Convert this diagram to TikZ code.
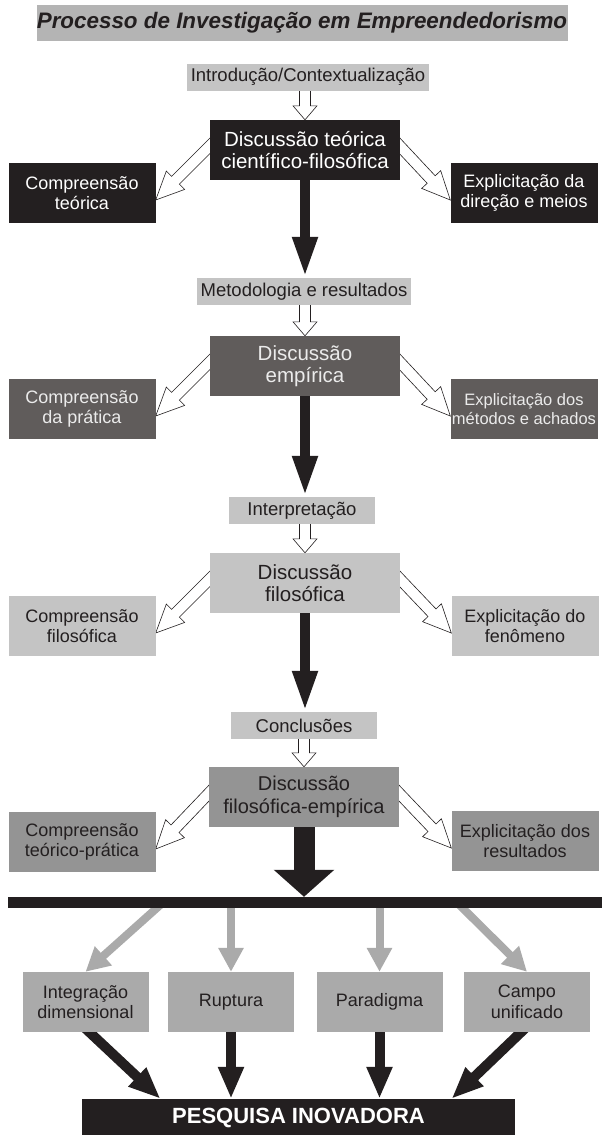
\documentclass[tikz,border=0pt]{standalone}
\usepackage{fontspec}
\setmainfont{Liberation Sans}
\usetikzlibrary{arrows.meta, calc, backgrounds}
\definecolor{ink}{RGB}{35,31,32}
\definecolor{titlegray}{RGB}{180,180,180}
\definecolor{labgray}{RGB}{196,196,196}
\definecolor{empgray}{RGB}{96,92,91}
\definecolor{filgray}{RGB}{196,196,196}
\definecolor{mixgray}{RGB}{148,148,148}
\definecolor{outgray}{RGB}{170,170,170}

% outlined arrow: start, tip, half shaft, half head, head length
\newcommand{\hollowarrow}[5]{%
  \coordinate (ha-s) at (#1);
  \coordinate (ha-e) at (#2);
  \coordinate (ha-b) at ($(ha-e)!#5!(ha-s)$);
  \draw[hollow] ($(ha-s)!#3!90:(ha-e)$) -- ($(ha-b)!#3!90:(ha-e)$)
    -- ($(ha-b)!#4!90:(ha-e)$) -- (ha-e) -- ($(ha-b)!#4!-90:(ha-e)$)
    -- ($(ha-b)!#3!-90:(ha-e)$) -- ($(ha-s)!#3!-90:(ha-e)$) -- cycle;}

\begin{document}
\begin{tikzpicture}[
    x=1pt, y=-1pt,
    every node/.style={inner sep=0pt, align=center, text=ink},
    ttl/.style={fill=titlegray, minimum width=531pt, minimum height=36pt,
      font=\fontsize{22.4}{26}\selectfont\bfseries\itshape},
    lab/.style={fill=labgray, minimum width=146pt, minimum height=27pt,
      inner xsep=4pt, font=\fontsize{18.5}{21}\selectfont},
    mainbox/.style={minimum width=190pt, minimum height=60pt,
      font=\fontsize{20.5}{22.5}\selectfont},
    side/.style={minimum width=147pt, minimum height=60pt,
      font=\fontsize{18}{20.5}\selectfont},
    outbox/.style={fill=outgray, minimum width=126pt, minimum height=60pt,
      font=\fontsize{18}{20.5}\selectfont},
    blk/.style={draw=ink, line width=10pt, -{Triangle[length=41pt, width=23pt]}},
    bigarr/.style={draw=ink, line width=21pt, -{Triangle[length=27pt, width=59pt]}},
    grayarr/.style={draw=outgray, line width=8pt, -{Triangle[length=24pt, width=24pt]}},
    endarr/.style={draw=ink, line width=10pt, shorten <=-6pt,
      -{Triangle[length=32pt, width=24pt]}},
    hollow/.style={fill=white, draw=ink, line width=0.6pt}
  ]
  \useasboundingbox (0,0) rectangle (602,1135);

  \node[ttl] (title) at (302,23) {Processo de Investigação em Empreendedorismo};

  % teoria
  \node[lab] (l1) at (308,77) {Introdução/Contextualização};
  \node[mainbox, fill=ink, text=white] (m1) at (305,150) {Discussão teórica\\científico-filosófica};
  \node[side, fill=ink, text=white] (c1) at (82,193) {Compreensão\\teórica};
  \node[side, fill=ink, text=white] (e1) at (524,193) {Explicitação da\\direção e meios};

  % empiria
  \node[lab] (l2) at (304,291.5) {Metodologia e resultados};
  \node[mainbox, fill=empgray, text=white!92!black] (m2) at (305,366) {Discussão\\empírica};
  \node[side, fill=empgray, text=white!92!black] (c2) at (82,409) {Compreensão\\da prática};
  \node[side, fill=empgray, text=white!92!black, font=\fontsize{16.5}{19.5}\selectfont] (e2) at (524,409) {Explicitação dos\\métodos e achados};

  % filosofia
  \node[lab] (l3) at (302,510.5) {Interpretação};
  \node[mainbox, fill=filgray] (m3) at (305,583) {Discussão\\filosófica};
  \node[side, fill=filgray] (c3) at (82,626) {Compreensão\\filosófica};
  \node[side, fill=filgray] (e3) at (525,626) {Explicitação do\\fenômeno};

  % sintese
  \node[lab] (l4) at (304,725.5) {Conclusões};
  \node[mainbox, fill=mixgray, font=\fontsize{20}{22.5}\selectfont] (m4) at (304,797) {Discussão\\filosófica-empírica};
  \node[side, fill=mixgray] (c4) at (82,842) {Compreensão\\teórico-prática};
  \node[side, fill=mixgray] (e4) at (525,841) {Explicitação dos\\resultados};

  \node[fill=ink, minimum width=594pt, minimum height=11pt] (bar) at (305,902.5) {};

  \node[outbox] (o1) at (85.5,1002) {Integração\\dimensional};
  \node[outbox] (o2) at (231,1002) {Ruptura};
  \node[outbox] (o3) at (379.5,1002) {Paradigma};
  \node[outbox] (o4) at (527,1002) {Campo\\unificado};

  \node[fill=ink, text=white, minimum width=433pt, minimum height=38pt,
    font=\fontsize{22}{26}\selectfont\bfseries] (pq) at (298.5,1118) {PESQUISA INOVADORA};

  \begin{scope}[on background layer]
    \fill[white] (0,0) rectangle (602,1135);
    \foreach \s in {1,2,3,4} {
      \hollowarrow{$(m\s.north |- l\s.south)+(0,-2)$}{m\s.north}{5.5pt}{12pt}{14pt}
      \hollowarrow{$(m\s.west)+(6,-10)$}{$(c\s.east)+(0,7)$}{5.5pt}{13pt}{28pt}
      \hollowarrow{$(m\s.east)+(-6,-10)$}{$(e\s.west)+(0,7)$}{5.5pt}{13pt}{28pt}
    }
    \foreach \s/\t in {1/2,2/3,3/4}
      \draw[blk] (m\s.south) -- (m\s.south |- l\t.north);
    \draw[bigarr] (m4.south) -- (m4.south |- bar.north);

    \draw[grayarr] ([xshift=-142pt]bar.center) -- (o1.north);
    \draw[grayarr] (bar.center -| o2.north) -- (o2.north);
    \draw[grayarr] (bar.center -| o3.north) -- (o3.north);
    \draw[grayarr] ([xshift=152pt]bar.center) -- (o4.north);

    \draw[endarr] ([xshift=4pt]o1.south) -- ([xshift=-138pt]pq.north);
    \draw[endarr] (o2.south) -- (o2.south |- pq.north);
    \draw[endarr] (o3.south) -- (o3.south |- pq.north);
    \draw[endarr] ([xshift=-6pt]o4.south) -- ([xshift=153pt]pq.north);
  \end{scope}
\end{tikzpicture}
\end{document}
